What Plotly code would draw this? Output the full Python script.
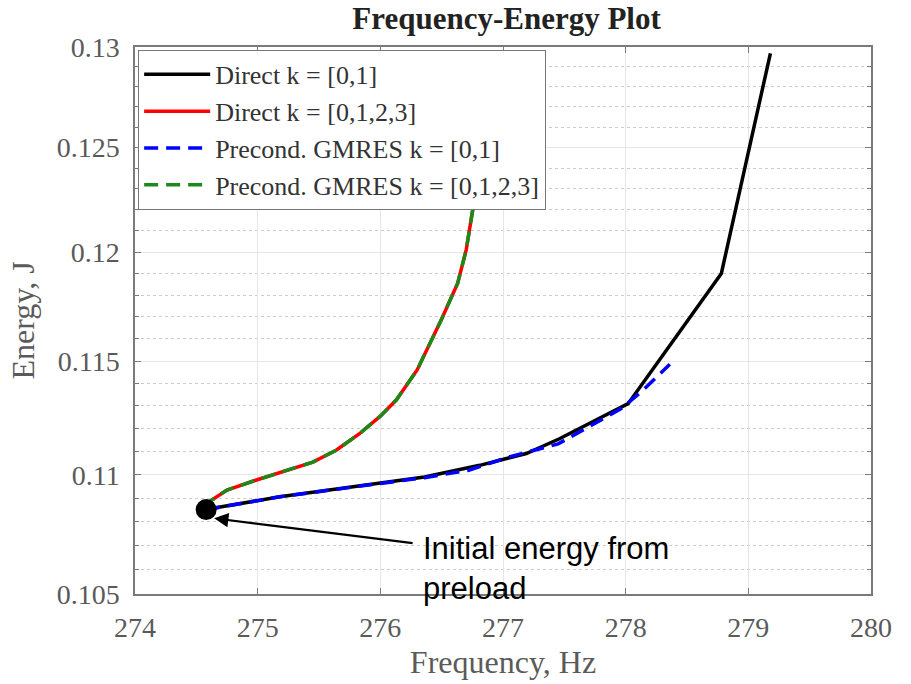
import numpy as np
import plotly.graph_objects as go

# ---- data ----
freq_direct01 = [274.58, 274.67, 275.18, 275.78, 276.36, 276.81, 277.19, 277.46, 278.02, 278.78, 279.18]
energy_direct01 = [0.10852, 0.10861, 0.10906, 0.10948, 0.10991, 0.11041, 0.11092, 0.11156, 0.11310, 0.11900, 0.12968]

freq_direct0123 = [274.58, 274.62, 274.75, 274.99, 275.45, 275.64, 275.83, 276.00, 276.13, 276.30, 276.50, 276.63, 276.70, 276.77, 276.84, 276.90]
energy_direct0123 = [0.10852, 0.10890, 0.10935, 0.10978, 0.11055, 0.11106, 0.11178, 0.11255, 0.11326, 0.11460, 0.11690, 0.11854, 0.12010, 0.12260, 0.12550, 0.12800]

freq_gmres01 = [274.58, 275.18, 275.78, 276.36, 276.72, 277.05, 277.45, 277.70, 277.96, 278.14, 278.36]
energy_gmres01 = [0.10852, 0.10906, 0.10948, 0.10988, 0.11020, 0.11077, 0.11134, 0.11207, 0.11287, 0.11369, 0.11485]

freq_gmres0123 = freq_direct0123
energy_gmres0123 = energy_direct0123

initial_point = (274.58, 0.10852)

x_ticks = [274, 275, 276, 277, 278, 279, 280]
y_ticks = [0.105, 0.11, 0.115, 0.12, 0.125, 0.13]
y_tick_text = ["0.105", "0.11", "0.115", "0.12", "0.125", "0.13"]
y_minor = [round(0.105 + 0.001 * i, 3) for i in range(26)]
y_minor = [v for v in y_minor if v not in y_ticks]

serif = "Liberation Serif"
gray = "#5a5a5a"

fig = go.Figure()
fig.add_trace(go.Scatter(x=freq_direct01, y=energy_direct01, mode="lines",
                         name="Direct k = [0,1]", line=dict(color="black", width=3.5)))
fig.add_trace(go.Scatter(x=freq_direct0123, y=energy_direct0123, mode="lines",
                         name="Direct k = [0,1,2,3]", line=dict(color="#ff0000", width=3.5)))
fig.add_trace(go.Scatter(x=freq_gmres01, y=energy_gmres01, mode="lines",
                         name="Precond. GMRES k = [0,1]",
                         line=dict(color="#0000ff", width=3.5, dash="14px,8px")))
fig.add_trace(go.Scatter(x=freq_gmres0123, y=energy_gmres0123, mode="lines",
                         name="Precond. GMRES k = [0,1,2,3]",
                         line=dict(color="#1a8a1a", width=3.5, dash="14px,8px")))
fig.add_trace(go.Scatter(x=[initial_point[0]], y=[initial_point[1]], mode="markers",
                         showlegend=False, marker=dict(color="black", size=21)))

# arrow
fig.add_annotation(x=274.645, y=np.log10(0.10815), xref="x", yref="y",
                   ax=200, ay=25, axref="pixel", ayref="pixel",
                   showarrow=True, arrowhead=2, arrowsize=1.3, arrowwidth=2.2,
                   arrowcolor="black", text="")
fig.add_annotation(x=0.388, y=0.118, xref="paper", yref="paper",
                   xanchor="left", yanchor="top", showarrow=False, align="left",
                   text="Initial energy from<br>preload",
                   font=dict(family="Liberation Sans, Arial", size=31, color="black"))

axis_common = dict(showline=True, linecolor="#7a7a7a", linewidth=1.5, mirror="ticks",
                   ticks="inside", tickcolor="#7a7a7a", ticklen=6, zeroline=False,
                   gridcolor="#e6e6e6", gridwidth=1, automargin=False,
                   tickfont=dict(family=serif, size=28, color=gray))

fig.update_xaxes(range=[274, 280], tickvals=x_ticks, ticklabelstandoff=8,
                 title=dict(text="Frequency, Hz", font=dict(family=serif, size=32, color=gray), standoff=8),
                 **axis_common)
fig.update_yaxes(type="log", range=[np.log10(0.105), np.log10(0.13)],
                 tickvals=y_ticks, ticktext=y_tick_text, ticklabelstandoff=8,
                 minor=dict(tickvals=y_minor, ticks="inside", ticklen=4, tickcolor="#7a7a7a",
                            showgrid=True, gridcolor="#cccccc", griddash="dot", gridwidth=1),
                 title=dict(text="Energy, J", font=dict(family=serif, size=32, color=gray), standoff=12),
                 **axis_common)

fig.update_layout(
    width=911, height=684,
    margin=dict(l=135, r=40, t=47, b=90, autoexpand=False),
    plot_bgcolor="white", paper_bgcolor="white",
    title=dict(text="<b>Frequency-Energy Plot</b>", x=0.556, xanchor="center", y=0.974, yanchor="middle",
               font=dict(family=serif, size=31, color="#222222")),
    legend=dict(x=0.004, y=0.995, xanchor="left", yanchor="top",
                bgcolor="white", bordercolor="#777777", borderwidth=1.2,
                font=dict(family=serif, size=26, color="#333333"),
                itemwidth=66, tracegroupgap=0),
    showlegend=True,
)

fig.write_html("out.html", config={"displayModeBar": False},
               post_script="document.body.style.margin='0px';")
